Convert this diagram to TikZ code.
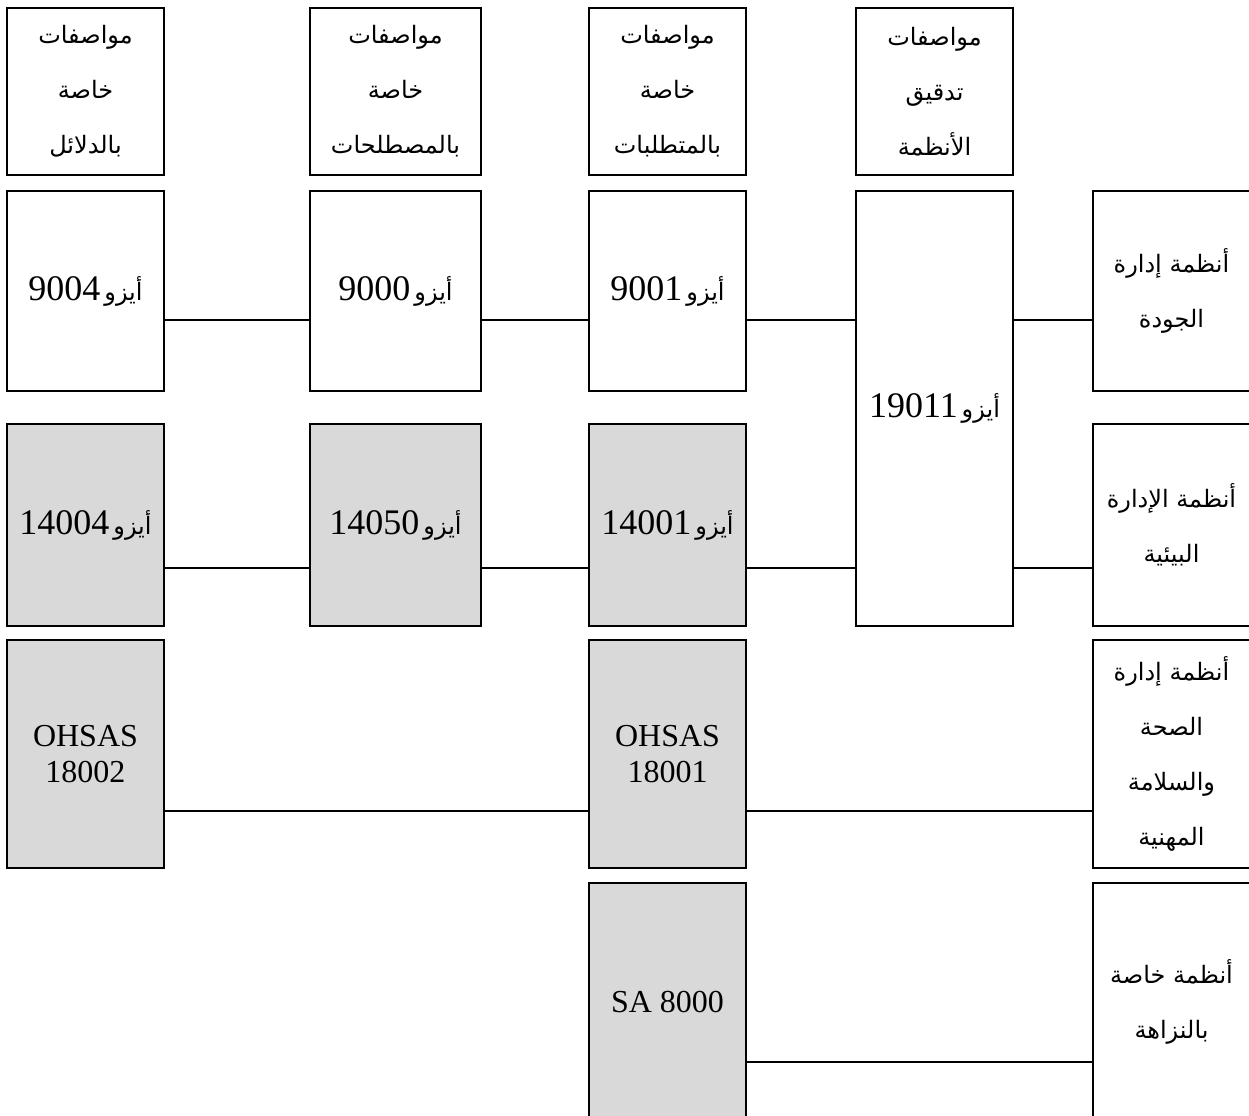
\documentclass[tikz,border=0pt]{standalone}
\usepackage{fontspec}
\setmainfont{Liberation Serif}
\newfontfamily\arabicfont[Script=Arabic]{DejaVu Sans}
\TeXXeTstate=1
\newcommand\arl[1]{\beginR#1\endR}
\newcommand\iso[1]{#1\hspace{2pt}{\arabicfont\fontsize{12}{16}\selectfont\arl{أيزو}}}
\definecolor{boxgray}{RGB}{217,217,217}
\begin{document}
\begin{tikzpicture}[x=0.5pt,y=-0.5pt,
 box/.style={draw=black, line width=1pt, inner sep=0pt, outer sep=0pt, align=center, minimum width=78.5pt},
 grey/.style={box, fill=boxgray},
 link/.style={draw=black, line width=1pt},
 hdr/.style={font=\arabicfont\fontsize{12}{27.5}\selectfont},
 isotext/.style={font=\fontsize{18}{20}\selectfont},
 latin/.style={font=\fontsize{16}{18}\selectfont}]
\useasboundingbox (0,0) rectangle (1249,1115);
\clip (0,0) rectangle (1249,1115);

% header row
\node[box, hdr, minimum height=83.5pt] (h1) at (85.5,91.5) {\arl{مواصفات}\\\arl{خاصة}\\\arl{بالدلائل}};
\node[box, hdr, minimum height=83.5pt, minimum width=85.5pt] (h2) at (395.5,91.5) {\arl{مواصفات}\\\arl{خاصة}\\\arl{بالمصطلحات}};
\node[box, hdr, minimum height=83.5pt] (h3) at (667.5,91.5) {\arl{مواصفات}\\\arl{خاصة}\\\arl{بالمتطلبات}};
\node[box, hdr, minimum height=83.5pt] (h4) at (934.5,91.5) {\arl{مواصفات}\\\arl{تدقيق}\\\arl{الأنظمة}};

% row 1
\node[box, isotext, minimum height=100pt] (a1) at (85.5,291) {\iso{9004}};
\node[box, isotext, minimum height=100pt, minimum width=85.5pt] (a2) at (395.5,291) {\iso{9000}};
\node[box, isotext, minimum height=100pt] (a3) at (667.5,291) {\iso{9001}};
\node[box, isotext, minimum height=217.5pt] (aud) at (934.5,408.5) {\iso{19011}};
\node[box, hdr, minimum height=100pt] (r1) at (1171.5,291) {\arl{أنظمة إدارة}\\\arl{الجودة}};

% row 2
\node[grey, isotext, minimum height=101pt] (b1) at (85.5,525) {\iso{14004}};
\node[grey, isotext, minimum height=101pt, minimum width=85.5pt] (b2) at (395.5,525) {\iso{14050}};
\node[grey, isotext, minimum height=101pt] (b3) at (667.5,525) {\iso{14001}};
\node[box, hdr, minimum height=101pt] (r2) at (1171.5,525) {\arl{أنظمة الإدارة}\\\arl{البيئية}};

% row 3
\node[grey, latin, minimum height=114pt] (c1) at (85.5,754) {OHSAS\\18002};
\node[grey, latin, minimum height=114pt] (c3) at (667.5,754) {OHSAS\\18001};
\node[box, hdr, minimum height=114pt] (r3) at (1171.5,754) {\arl{أنظمة إدارة}\\\arl{الصحة}\\\arl{والسلامة}\\\arl{المهنية}};

% row 4
\node[grey, latin, minimum height=119pt] (d3) at (667.5,1002) {SA 8000};
\node[box, hdr, minimum height=119pt] (r4) at (1171.5,1002) {\arl{أنظمة خاصة}\\\arl{بالنزاهة}};

% connector levels
\coordinate (y1) at (0,320);
\coordinate (y2) at (0,568);
\coordinate (y3) at (0,811);
\coordinate (y4) at (0,1062);

\draw[link] (a1.east |- y1) -- (a2.west |- y1);
\draw[link] (a2.east |- y1) -- (a3.west |- y1);
\draw[link] (a3.east |- y1) -- (aud.west |- y1);
\draw[link] (aud.east |- y1) -- (r1.west |- y1);

\draw[link] (b1.east |- y2) -- (b2.west |- y2);
\draw[link] (b2.east |- y2) -- (b3.west |- y2);
\draw[link] (b3.east |- y2) -- (aud.west |- y2);
\draw[link] (aud.east |- y2) -- (r2.west |- y2);

\draw[link] (c1.east |- y3) -- (c3.west |- y3);
\draw[link] (c3.east |- y3) -- (r3.west |- y3);

\draw[link] (d3.east |- y4) -- (r4.west |- y4);
\end{tikzpicture}
\end{document}
